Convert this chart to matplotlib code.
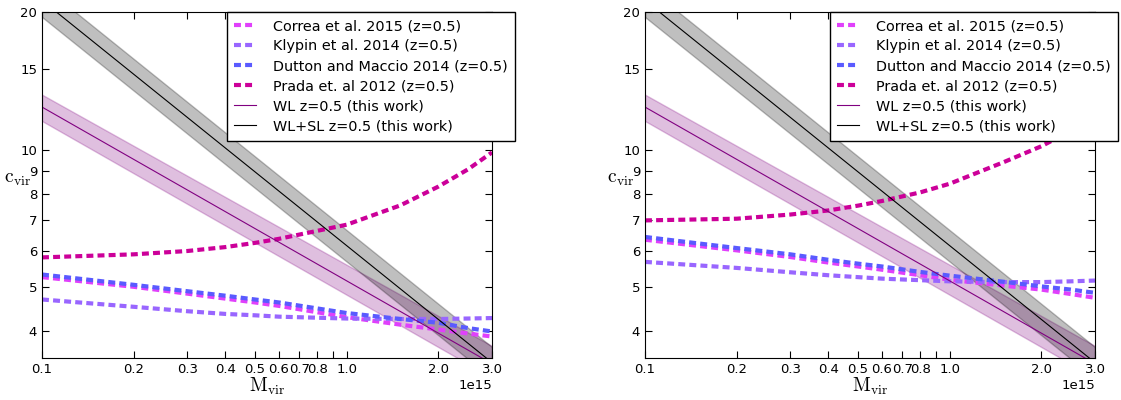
import numpy as np
import matplotlib
matplotlib.use("Agg")
import matplotlib.pyplot as plt

plt.rcParams['mathtext.fontset'] = 'cm'
plt.rcParams['font.family'] = 'DejaVu Sans'
plt.rcParams['lines.scale_dashes'] = False

# ---- data (mass in units of 1e15) ----
# this work: power law fits with 1-sigma bands
m_fit = [0.1, 3.0]
wl_c = [12.39, 3.40]
wl_lo = [11.55, 3.17]
wl_hi = [13.19, 3.72]
wlsl_c = [21.2, 3.42]
wlsl_lo = [19.5, 3.16]
wlsl_hi = [22.9, 3.70]

# left panel theory curves
m_l = [0.1, 0.2, 0.3, 0.4, 0.5, 0.6, 1.0, 1.5, 2.0, 2.5, 3.0]
correa_l = [5.26, 5.01, 4.84, 4.72, 4.63, 4.55, 4.30, 4.14, 4.04, 3.96, 3.90]
klypin_l = [4.70, 4.53, 4.43, 4.37, 4.34, 4.31, 4.27, 4.26, 4.26, 4.27, 4.28]
dutton_l = [5.33, 5.06, 4.90, 4.79, 4.70, 4.63, 4.39, 4.26, 4.18, 4.07, 4.00]
prada_l = [5.81, 5.90, 6.00, 6.12, 6.25, 6.38, 6.85, 7.55, 8.30, 9.05, 9.86]

# right panel theory curves
m_r = [0.1, 0.2, 0.3, 0.4, 0.5, 0.6, 0.8, 1.0, 1.5, 2.0, 2.5, 3.0]
correa_r = [6.35, 6.02, 5.82, 5.66, 5.55, 5.46, 5.31, 5.19, 5.04, 4.94, 4.83, 4.74]
klypin_r = [5.68, 5.51, 5.39, 5.31, 5.26, 5.22, 5.18, 5.15, 5.13, 5.13, 5.15, 5.17]
dutton_r = [6.44, 6.09, 5.90, 5.74, 5.63, 5.55, 5.40, 5.30, 5.14, 5.02, 4.94, 4.86]
prada_r = [7.00, 7.06, 7.21, 7.36, 7.54, 7.72, 8.06, 8.42, 9.38, 10.17, 11.0, 11.9]

xticks = [0.1, 0.2, 0.3, 0.4, 0.5, 0.6, 0.7, 0.8, 0.9, 1.0, 2.0, 3.0]
xlabels = ['0.1', '0.2', '0.3', '0.4', '0.5', '0.6', '0.7', '0.8', '', '1.0', '2.0', '3.0']
yticks = [4, 5, 6, 7, 8, 9, 10, 15, 20]

c_correa = '#e040fb'
c_klypin = '#9966ff'
c_dutton = '#5a5aff'
c_prada = '#cc0099'


def panel(ax, m, correa, klypin, dutton, prada):
    ax.plot(m, correa, color=c_correa, lw=3, dashes=(5, 3), label='Correa et al. 2015 (z=0.5)')
    ax.plot(m, klypin, color=c_klypin, lw=3, dashes=(5, 3), label='Klypin et al. 2014 (z=0.5)')
    ax.plot(m, dutton, color=c_dutton, lw=3, dashes=(5, 3), label='Dutton and Maccio 2014 (z=0.5)')
    ax.plot(m, prada, color=c_prada, lw=3, dashes=(5, 3), label='Prada et. al 2012 (z=0.5)')
    ax.fill_between(m_fit, wl_lo, wl_hi, color='purple', alpha=0.25)
    ax.plot(m_fit, wl_c, color='purple', lw=0.8, label='WL z=0.5 (this work)')
    ax.fill_between(m_fit, wlsl_lo, wlsl_hi, color='black', alpha=0.25)
    ax.plot(m_fit, wlsl_c, color='black', lw=0.8, label='WL+SL z=0.5 (this work)')

    ax.set_xscale('log')
    ax.set_yscale('log')
    ax.set_xlim(0.1, 3.0)
    ax.set_ylim(3.5, 20)
    ax.xaxis.set_minor_locator(matplotlib.ticker.NullLocator())
    ax.yaxis.set_minor_locator(matplotlib.ticker.NullLocator())
    ax.set_xticks(xticks)
    ax.set_xticklabels(xlabels)
    ax.set_yticks(yticks)
    ax.set_yticklabels([str(t) for t in yticks])
    ax.tick_params(direction='in', top=True, right=True, length=5, labelsize=9.5, pad=3.5)
    ax.set_xlabel(r'$\mathrm{M_{vir}}$', fontsize=14, labelpad=0)
    ax.set_ylabel(r'$\mathrm{c_{vir}}$', fontsize=14, rotation=0, ha='center', va='center')
    ax.yaxis.set_label_coords(-0.055, 0.52)
    ax.text(1.0, -0.062, '1e15', transform=ax.transAxes, ha='right', va='top', fontsize=9.5)

    leg = ax.legend(loc='upper right', bbox_to_anchor=(1.051, 1.0), fontsize=10.4,
                    handlelength=1.5, handletextpad=1.2, borderaxespad=0, borderpad=0.5,
                    labelspacing=0.42, fancybox=False, framealpha=1)
    leg.get_frame().set_edgecolor('black')
    leg.get_frame().set_linewidth(1.0)


fig = plt.figure(figsize=(11.21, 4.0), dpi=100)
ax1 = fig.add_axes([42 / 1121, 42 / 400, 450 / 1121, 346 / 400])
ax2 = fig.add_axes([645 / 1121, 42 / 400, 450 / 1121, 346 / 400])

panel(ax1, m_l, correa_l, klypin_l, dutton_l, prada_l)
panel(ax2, m_r, correa_r, klypin_r, dutton_r, prada_r)

fig.savefig('out.png', dpi=100)
